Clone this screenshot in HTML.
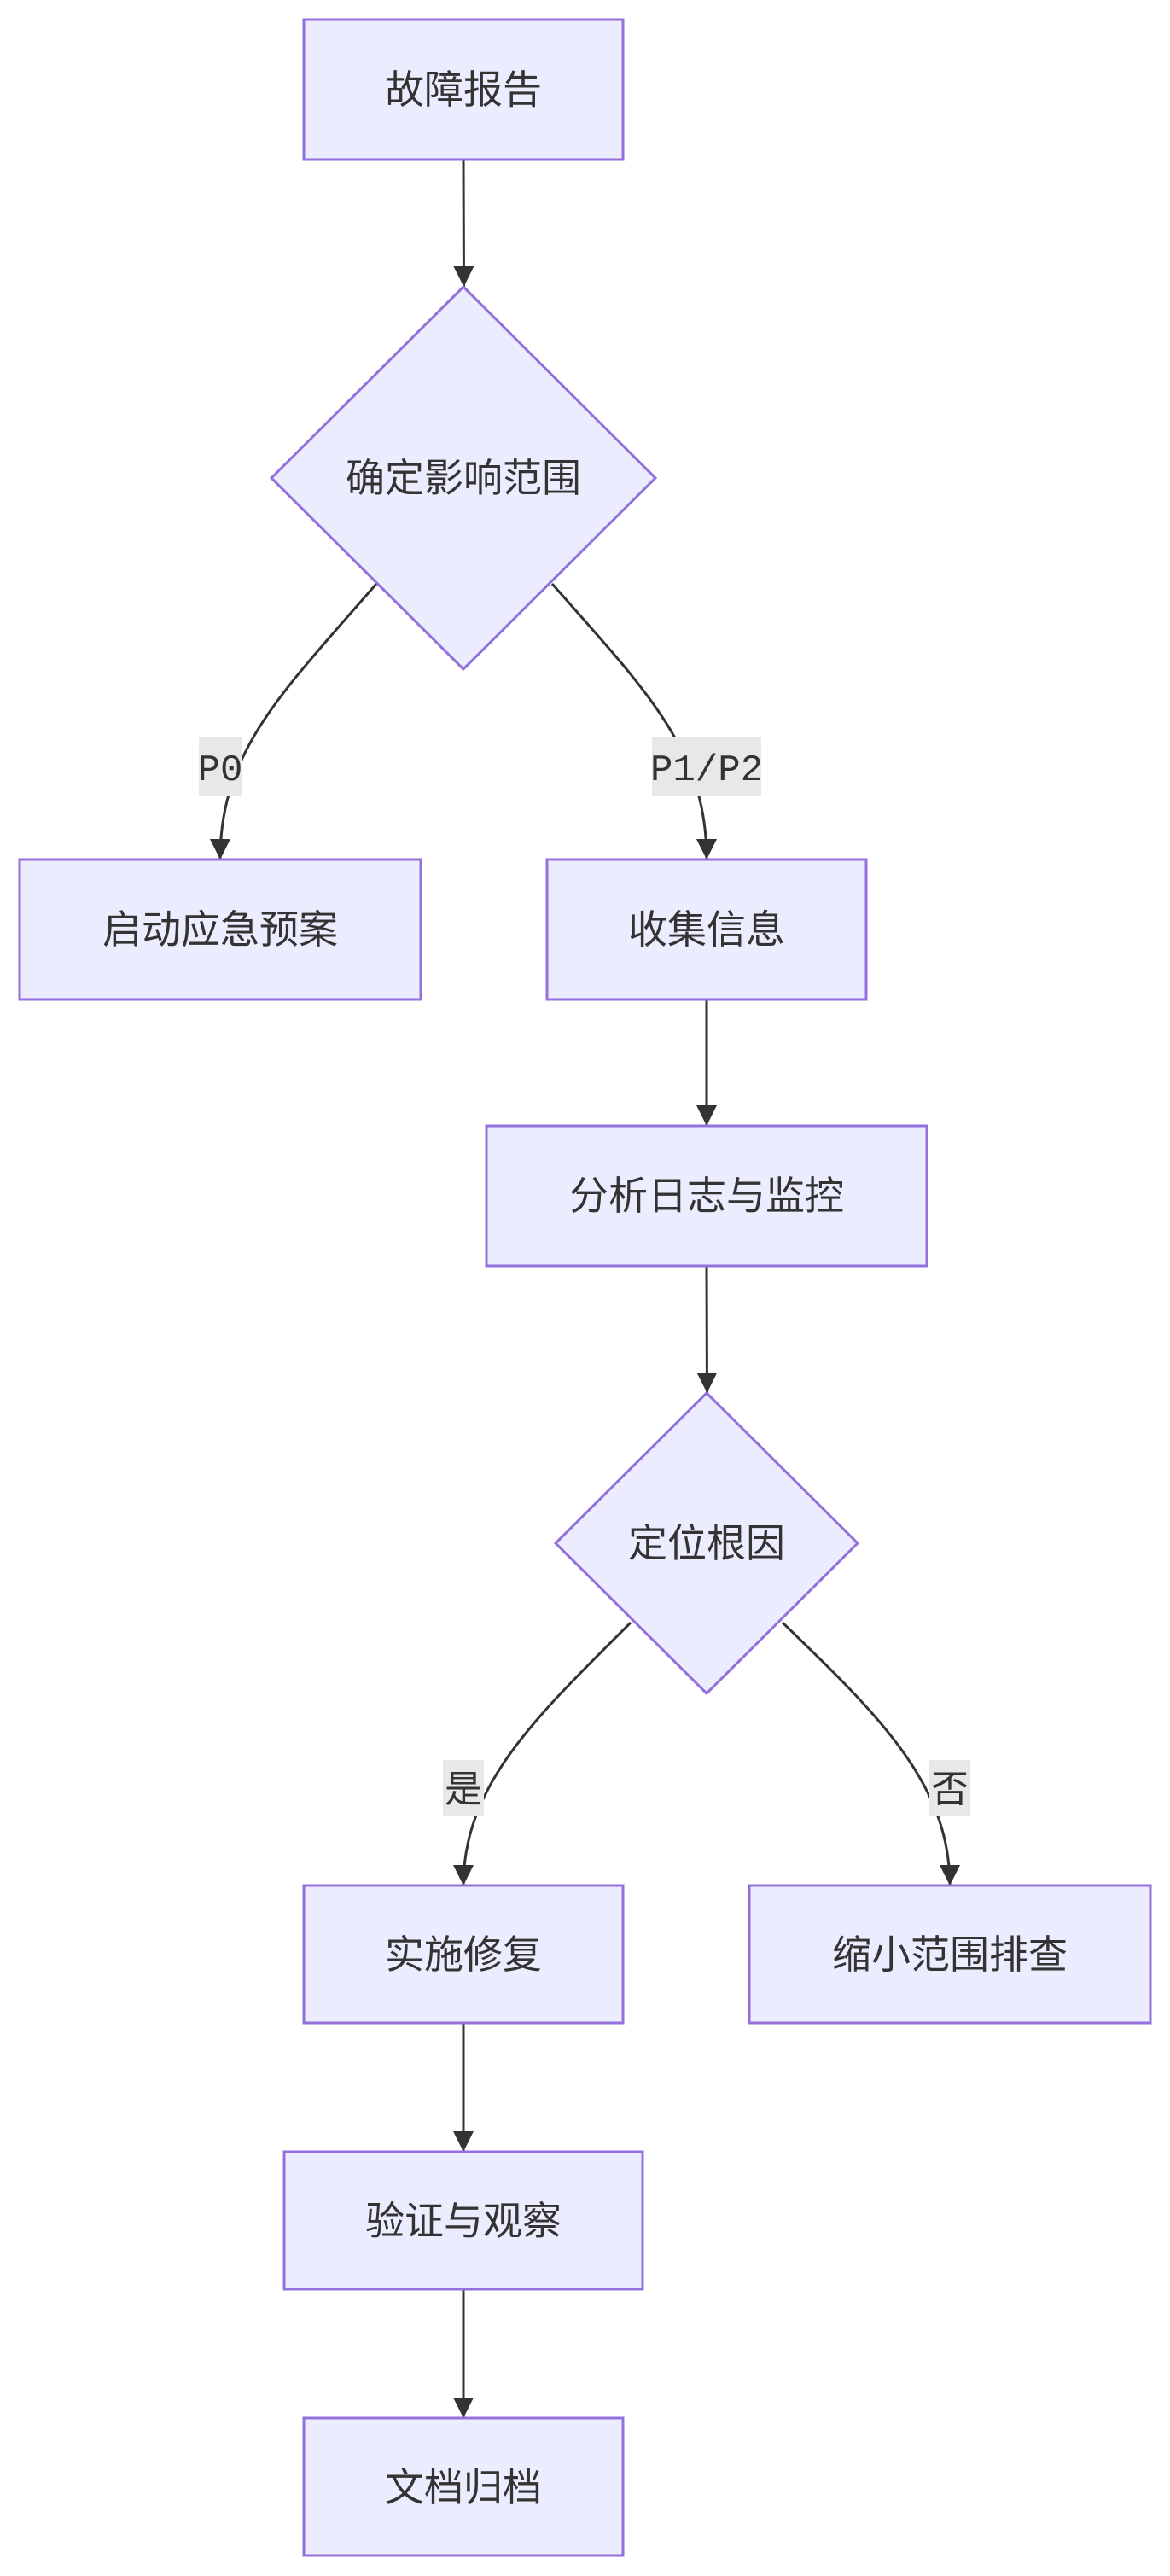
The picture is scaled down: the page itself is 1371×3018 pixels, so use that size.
<!DOCTYPE html>
<html><head><meta charset="utf-8"><style>
html,body{margin:0;padding:0;background:#fff;}
svg{display:block}
text{font-family:"Liberation Sans","Noto Sans CJK SC",sans-serif;fill:#333;}
.n{fill:#ececff;stroke:#9370db;stroke-width:3}
.e{fill:none;stroke:#333;stroke-width:3}
.lb{fill:#e8e8e8}
</style></head><body>
<svg width="1371" height="3018" viewBox="0 0 1371 3018" xmlns="http://www.w3.org/2000/svg">
<defs><marker id="a" viewBox="0 0 10 10" refX="9" refY="5" markerWidth="8" markerHeight="8" markerUnits="userSpaceOnUse" orient="auto"><path d="M0,0L10,5L0,10z" fill="#333"/></marker>
<marker id="b" viewBox="0 0 10 10" refX="10" refY="5" markerWidth="24" markerHeight="24" markerUnits="userSpaceOnUse" orient="auto"><path d="M0,0L10,5L0,10z" fill="#333"/></marker></defs>
<!-- edges -->
<path class="e" d="M543,187 L543.5,336" marker-end="url(#b)"/>
<path class="e" d="M441,684 C330,812 258,880 258,1007" marker-end="url(#b)"/>
<path class="e" d="M647,684 C760,812 828,880 828,1007" marker-end="url(#b)"/>
<path class="e" d="M828,1171 L828,1319" marker-end="url(#b)"/>
<path class="e" d="M828,1483 L828.5,1632" marker-end="url(#b)"/>
<path class="e" d="M739,1901 C630,2010 543,2090 543,2209" marker-end="url(#b)"/>
<path class="e" d="M917,1901 C1030,2010 1113,2090 1113,2209" marker-end="url(#b)"/>
<path class="e" d="M543,2370 L543,2521" marker-end="url(#b)"/>
<path class="e" d="M543,2682 L543,2833" marker-end="url(#b)"/>
<!-- edge labels -->
<rect class="lb" x="233" y="863" width="50" height="69"/>
<text x="258" y="914" font-size="44" text-anchor="middle" style="font-family:'Liberation Mono',monospace">P0</text>
<rect class="lb" x="764" y="863" width="128" height="69"/>
<text x="828" y="914" font-size="44" text-anchor="middle" style="font-family:'Liberation Mono',monospace">P1/P2</text>
<rect class="lb" x="519" y="2062" width="48" height="66"/>
<text x="543" y="2111" font-size="44" text-anchor="middle">是</text>
<rect class="lb" x="1089" y="2062" width="48" height="66"/>
<text x="1113" y="2111" font-size="44" text-anchor="middle">否</text>
<!-- nodes -->
<rect class="n" x="356" y="23" width="374" height="164"/>
<text x="543" y="121" font-size="46" text-anchor="middle">故障报告</text>
<polygon class="n" points="543,336 768,560 543,784 318,560"/>
<text x="543" y="576" font-size="46" text-anchor="middle">确定影响范围</text>
<rect class="n" x="23" y="1007" width="470" height="164"/>
<text x="258" y="1105" font-size="46" text-anchor="middle">启动应急预案</text>
<rect class="n" x="641" y="1007" width="374" height="164"/>
<text x="828" y="1105" font-size="46" text-anchor="middle">收集信息</text>
<rect class="n" x="570" y="1319" width="516" height="164"/>
<text x="828" y="1417" font-size="46" text-anchor="middle">分析日志与监控</text>
<polygon class="n" points="828,1632 1005,1808 828,1984 651,1808"/>
<text x="828" y="1824" font-size="46" text-anchor="middle">定位根因</text>
<rect class="n" x="356" y="2209" width="374" height="161"/>
<text x="543" y="2306" font-size="46" text-anchor="middle">实施修复</text>
<rect class="n" x="878" y="2209" width="470" height="161"/>
<text x="1113" y="2306" font-size="46" text-anchor="middle">缩小范围排查</text>
<rect class="n" x="333" y="2521" width="420" height="161"/>
<text x="543" y="2618" font-size="46" text-anchor="middle">验证与观察</text>
<rect class="n" x="356" y="2833" width="374" height="161"/>
<text x="543" y="2930" font-size="46" text-anchor="middle">文档归档</text>
</svg>
</body></html>
